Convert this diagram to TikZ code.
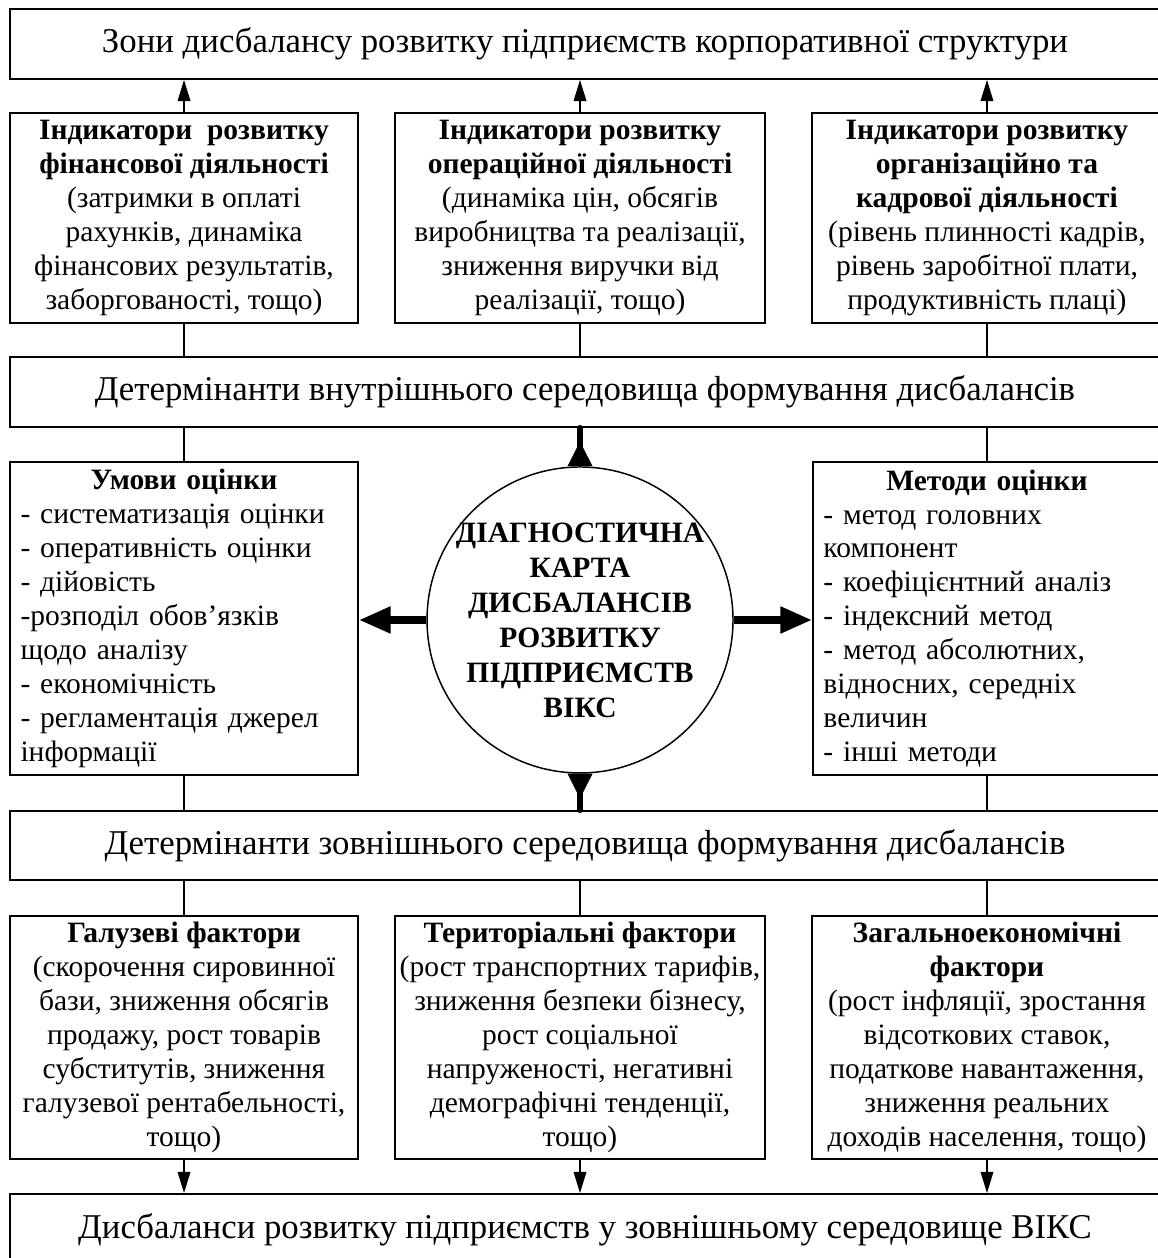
\documentclass[tikz,border=0pt]{standalone}
\usepackage{fontspec}
\setmainfont{Liberation Serif}
\usepackage{tikz}
\usetikzlibrary{arrows.meta}

\begin{document}
\begin{tikzpicture}
    \tikzstyle{box}=[draw, rectangle, line width=0.9pt, inner sep=0pt, align=center, font=\fontsize{14}{16.1}\selectfont];
    \tikzstyle{wide}=[box, minimum width=19.167cm, minimum height=1.167cm, font=\fontsize{16.5}{19}\selectfont];
    \tikzstyle{ind}=[box, minimum height=3.5cm];
    \tikzstyle{fact}=[box, minimum height=4.05cm];
    \tikzstyle{list}=[box, align=left, text width=5.45cm, inner xsep=0.175cm, minimum height=5.217cm];
    \tikzstyle{link}=[line width=0.6pt];
    \tikzstyle{arr}=[link, -{Triangle[length=10pt, width=6pt]}];
    \tikzstyle{bigarr}=[line width=3.4pt, -{Triangle[length=15pt, width=12pt]}];
    \tikzstyle{stub}=[line width=2.8pt, line cap=round, {Triangle[reversed, length=12pt, width=11pt]}-];

    \useasboundingbox (0,0) rectangle (19.3,-20.967);

    \node[wide] at (9.75,-0.733) (zones) {Зони дисбалансу розвитку підприємств корпоративної структури};
    \node[ind, minimum width=5.8cm] at (3.067,-3.633) (fin) {\textbf{Індикатори\ \ розвитку}\\\textbf{фінансової діяльності}\\(затримки в оплаті\\рахунків, динаміка\\фінансових результатів,\\заборгованості, тощо)};
    \node[ind, minimum width=6.167cm] at (9.667,-3.633) (oper) {\textbf{Індикатори розвитку}\\\textbf{операційної діяльності}\\(динаміка цін, обсягів\\виробництва та реалізації,\\зниження виручки від\\реалізації, тощо)};
    \node[ind, minimum width=5.833cm] at (16.45,-3.633) (org) {\textbf{Індикатори розвитку}\\\textbf{організаційно та}\\\textbf{кадрової діяльності}\\(рівень плинності кадрів,\\рівень заробітної плати,\\продуктивність плаці)};
    \node[wide] at (9.75,-6.533) (intl) {Детермінанти внутрішнього середовища формування дисбалансів};

    \node[list] at (3.067,-10.308) (cond) {\makebox[\linewidth]{\textbf{Умови оцінки}}\\- систематизація оцінки\\- оперативність оцінки\\- дійовість\\-розподіл обов’язків\\щодо аналізу\\- економічність\\- регламентація джерел\\інформації};
    \node[list] at (16.45,-10.308) (meth) {\makebox[\linewidth]{\textbf{Методи оцінки}}\\- метод головних\\компонент\\- коефіцієнтний аналіз\\- індексний метод\\- метод абсолютних,\\відносних, середніх\\величин\\- інші методи};
    \node[draw, circle, line width=0.7pt, minimum size=5.1cm, inner sep=0pt] at (9.667,-10.333) (diag) {};
    \node[align=center, font=\bfseries\fontsize{14}{16.6}\selectfont] at (diag) (diagtxt) {ДІАГНОСТИЧНА\\КАРТА\\ДИСБАЛАНСІВ\\РОЗВИТКУ\\ПІДПРИЄМСТВ\\ВІКС};

    \node[wide, minimum height=1.15cm] at (9.75,-14.092) (extl) {Детермінанти зовнішнього середовища формування дисбалансів};
    \node[fact, minimum width=5.8cm] at (3.067,-17.292) (branch) {\textbf{Галузеві фактори}\\(скорочення сировинної\\бази, зниження обсягів\\продажу, рост товарів\\субститутів, зниження\\галузевої рентабельності,\\тощо)};
    \node[fact, minimum width=6.167cm] at (9.667,-17.292) (terr) {\textbf{Територіальні фактори}\\(рост транспортних тарифів,\\зниження безпеки бізнесу,\\рост соціальної\\напруженості, негативні\\демографічні тенденції,\\тощо)};
    \node[fact, minimum width=5.833cm] at (16.45,-17.292) (econ) {\textbf{Загальноекономічні}\\\textbf{фактори}\\(рост інфляції, зростання\\відсоткових ставок,\\податкове навантаження,\\зниження реальних\\доходів населення, тощо)};
    \node[wide, minimum height=1.2cm] at (9.75,-20.5) (result) {Дисбаланси розвитку підприємств у зовнішньому середовище ВІКС};

    \draw[arr] (fin.north) -- (fin.north |- zones.south);
    \draw[arr] (oper.north) -- (oper.north |- zones.south);
    \draw[arr] (org.north) -- (org.north |- zones.south);
    \draw[link] (fin.south) -- (fin.south |- intl.north)
          (oper.south) -- (oper.south |- intl.north)
          (org.south) -- (org.south |- intl.north)
          (cond.north) -- (cond.north |- intl.south)
          (meth.north) -- (meth.north |- intl.south)
          (cond.south) -- (cond.south |- extl.north)
          (meth.south) -- (meth.south |- extl.north)
          (branch.north) -- (branch.north |- extl.south)
          (terr.north) -- (terr.north |- extl.south)
          (econ.north) -- (econ.north |- extl.south);
    \draw[stub] (diag.north) -- (diag.north |- intl.south);
    \draw[stub] (diag.south) -- (diag.south |- extl.north);
    \draw[bigarr] (diag.west) -- (diag.west -| cond.east);
    \draw[bigarr] (diag.east) -- (diag.east -| meth.west);
    \draw[arr] (branch.south) -- (branch.south |- result.north);
    \draw[arr] (terr.south) -- (terr.south |- result.north);
    \draw[arr] (econ.south) -- (econ.south |- result.north);
\end{tikzpicture}
\end{document}
